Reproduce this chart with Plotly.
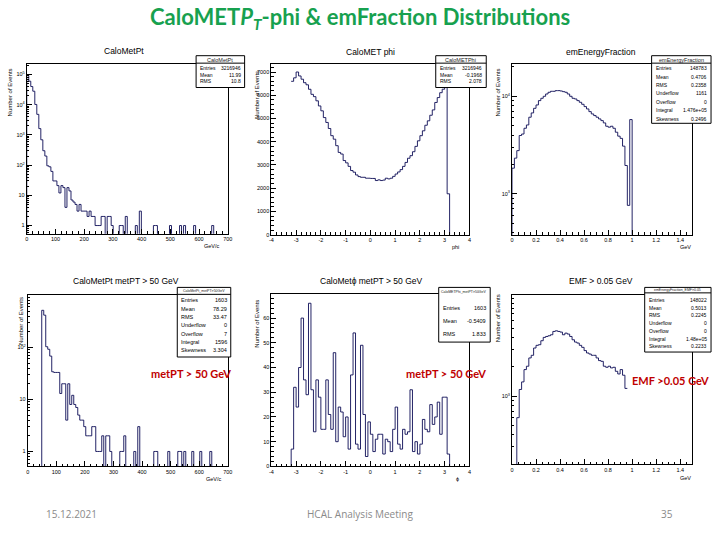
import numpy as np
import plotly.graph_objects as go

W, H = 720, 540

# ---------------- data ----------------
pt_bin_width = 7.0          # GeV, 100 bins 0..700
calomet_pt_counts = [93000, 60000, 40000, 28000, 10200, 4800, 1620, 690, 300, 200,
                     95, 88, 62, 30, 30, 21, 12, 21, 18, 4,
                     18, 14, 7, 6, 5, 3, 5, 3, 3, 3,
                     2, 3, 2, 2, 1, 1, 1, 2, 2, 0,
                     2, 2, 1, 0, 0, 0, 1, 1, 0, 2,
                     0, 0, 0, 0, 1, 0, 3, 0, 0, 0,
                     0, 0, 0, 1, 1, 0, 0, 0, 0, 0,
                     0, 1, 0, 0, 0, 0, 1, 0, 1, 0,
                     0, 0, 0, 1, 0, 0, 0, 0, 0, 0,
                     0, 0, 1, 0, 0, 0, 0, 0, 0, 0]
calomet_pt_cut_counts = [0, 0, 0, 0, 0, 0, 0, 516, 416, 103,
                         92, 68, 34, 33, 33, 33, 13, 20, 20, 4,
                         20, 8, 12, 8, 7, 5, 4, 4, 3, 2,
                         2, 2, 3, 3, 1, 1, 1, 2, 0, 2,
                         2, 1, 0, 0, 0, 0, 1, 1, 2, 0,
                         0, 0, 0, 1, 0, 3, 0, 0, 0, 0,
                         0, 0, 0, 1, 1, 0, 0, 0, 0, 0,
                         1, 0, 0, 0, 0, 1, 1, 0, 1, 0,
                         0, 0, 1, 0, 0, 0, 1, 0, 0, 0,
                         0, 1, 0, 0, 0, 0, 0, 0, 0, 0]

phi_first_edge = -3.2
phi_bin_width = 0.1
calomet_phi_counts = [6600, 6750, 7000, 6830, 6690, 6540, 6450, 6257, 6040, 5940,
                      5760, 5540, 5330, 5040, 4830, 4570, 4260, 4110, 3830, 3540,
                      3470, 3190, 3090, 2940, 2760, 2690, 2570, 2500, 2470, 2470,
                      2430, 2430, 2420, 2420, 2330, 2360, 2330, 2350, 2430, 2400,
                      2430, 2510, 2610, 2700, 2800, 2940, 3110, 3290, 3400, 3570,
                      3800, 4040, 4260, 4470, 4710, 4900, 5140, 5370, 5690, 5900,
                      6110, 6260, 6400, 1760]
calomet_phi_cut_counts = [7, 32, 24, 40, 60, 35, 29, 66, 31, 14,
                          35, 28, 15, 15, 35, 21, 15, 46, 10, 24,
                          22, 12, 20, 7, 37, 54, 9, 7, 49, 21,
                          4, 18, 13, 6, 11, 13, 13, 5, 11, 10,
                          6, 15, 24, 9, 7, 15, 13, 14, 31, 6,
                          10, 5, 9, 19, 15, 14, 25, 17, 20, 26,
                          13, 28, 28, 5]

emf_bin_width = 0.02
emf_counts = [1830, 2320, 2770, 3960, 4100, 4700, 5080, 6100, 6750, 7530,
              8150, 9030, 9540, 10000, 10560, 10990, 11250, 11250, 11430, 11430,
              11340, 11160, 10990, 10560, 10000, 9540, 9390, 9030, 8680, 8280,
              7840, 7420, 6960, 6590, 6340, 6100, 5860, 5630, 5330, 4930,
              4820, 4930, 4700, 4280, 3900, 3700, 3080, 1950, 760, 5770]
emf_cut_first_edge = 0.04
emf_cut_counts = [600, 1170, 1400, 1875, 2030, 2470, 2630, 3125, 3330, 3380,
                  3715, 4020, 4110, 4180, 4280, 4630, 4700, 4630, 4560, 4280,
                  4450, 4350, 4110, 3800, 3600, 3515, 3330, 3175, 2940, 2780,
                  2710, 2630, 2630, 2470, 2320, 2280, 2030, 1980, 2030, 1950,
                  1980, 1800, 1690, 1875, 1640, 1200]

pt_ticks = [0, 100, 200, 300, 400, 500, 600, 700]
phi_ticks = [-4, -3, -2, -1, 0, 1, 2, 3, 4]
emf_ticks = [0, 0.2, 0.4, 0.6, 0.8, 1, 1.2, 1.4]
phi_y_ticks = [0, 1000, 2000, 3000, 4000, 5000, 6000, 7000]
phi_cut_y_ticks = [0, 10, 20, 30, 40, 50, 60]

stats_pt = [("Entries", "3216946"), ("Mean", "11.99"), ("RMS", "10.8")]
stats_phi = [("Entries", "3216946"), ("Mean", "-0.1968"), ("RMS", "2.078")]
stats_emf = [("Entries", "148783"), ("Mean", "0.4706"), ("RMS", "0.2358"),
             ("Underflow", "1161"), ("Overflow", "0"), ("Integral", "1.476e+05"),
             ("Skewness", "0.2496")]
stats_pt_cut = [("Entries", "1603"), ("Mean", "78.29"), ("RMS", "33.47"),
                ("Underflow", "0"), ("Overflow", "7"), ("Integral", "1596"),
                ("Skewness", "3.304")]
stats_phi_cut = [("Entries", "1603"), ("Mean", "-0.5409"), ("RMS", "1.833")]
stats_emf_cut = [("Entries", "148022"), ("Mean", "0.5013"), ("RMS", "0.2245"),
                 ("Underflow", "0"), ("Overflow", "0"), ("Integral", "1.48e+05"),
                 ("Skewness", "0.2233")]

# ---------------- helpers ----------------
def px(x):
    return x / W

def py(y):
    return 1 - y / H

LINE = "#0b0b55"
FONT = "Liberation Sans"

def step_xy(edge0, width, counts, floor, close_left=True, close_right=True):
    n = len(counts)
    edges = edge0 + width * np.arange(n + 1)
    ys = [c if c > 0 else floor for c in counts]
    x = ([edges[0]] if close_left else []) + list(edges[:n]) + [edges[n]]
    y = ([floor] if close_left else []) + ys + ([floor] if close_right else [ys[-1]])
    return x, y

fig = go.Figure()

panels = [
    ("1", (25, 228, 64, 235)),
    ("2", (272, 472, 64, 236)),
    ("3", (515, 697, 64, 236)),
    ("4", (26, 228, 297, 469)),
    ("5", (272, 472, 296, 469)),
    ("6", (515, 697, 297, 467)),
]

LOGFLOOR = 1e-3
traces = [
    step_xy(0.0, pt_bin_width, calomet_pt_counts, LOGFLOOR),
    step_xy(phi_first_edge, phi_bin_width, calomet_phi_counts, 0, close_left=False),
    step_xy(0.0, emf_bin_width, emf_counts, LOGFLOOR),
    step_xy(0.0, pt_bin_width, calomet_pt_cut_counts, LOGFLOOR),
    step_xy(phi_first_edge, phi_bin_width, calomet_phi_cut_counts, 0),
    step_xy(emf_cut_first_edge, emf_bin_width, emf_cut_counts, LOGFLOOR, close_right=False),
]

for i, (xx, yy) in enumerate(traces):
    k = "" if i == 0 else str(i + 1)
    fig.add_trace(go.Scatter(x=xx, y=yy, mode="lines", line=dict(color=LINE, width=0.9, shape="hv"),
                             xaxis="x" + k, yaxis="y" + k, hoverinfo="skip", showlegend=False))

tickfont = dict(size=5.5, family=FONT, color="black")

def base_axis(dom, anchor):
    return dict(domain=dom, anchor=anchor, showline=True, mirror=True, linecolor="black",
                linewidth=1, ticks="inside", ticklen=5, tickcolor="black", tickwidth=1,
                tickfont=tickfont, showgrid=False, zeroline=False, fixedrange=True)

def lin_axis(dom, anchor, rng, vals, minor):
    d = base_axis(dom, anchor)
    d.update(range=rng, tickmode="array", tickvals=vals, ticktext=[f"{v:g}" for v in vals],
             minor=dict(ticks="inside", ticklen=2.5, tickcolor="black", dtick=minor, showgrid=False))
    return d

def sup(e):
    if e == 0:
        return "1"
    if e == 1:
        return "10"
    return f"10<sup>{e}</sup>"

def log_y(dom, anchor, rng, exps):
    d = base_axis(dom, anchor)
    d.update(type="log", range=rng, tickmode="array", tickvals=[10 ** e for e in exps],
             ticktext=[sup(e) for e in exps],
             minor=dict(ticks="inside", ticklen=2.5, tickcolor="black", dtick="D1", showgrid=False))
    return d

layout_axes = {}
for i, (name, (x0, x1, y0, y1)) in enumerate(panels):
    k = "" if i == 0 else str(i + 1)
    xd = [px(x0), px(x1)]
    yd = [py(y1), py(y0)]
    xa = "xaxis" + k
    ya = "yaxis" + k
    xanchor = "y" + k
    yanchor = "x" + k
    if name in ("1", "4"):
        layout_axes[xa] = lin_axis(xd, xanchor, [0, 700], pt_ticks, 20)
    elif name in ("2", "5"):
        layout_axes[xa] = lin_axis(xd, xanchor, [-4, 4], phi_ticks, 0.2)
    else:
        layout_axes[xa] = lin_axis(xd, xanchor, [0, 1.5], emf_ticks, 0.05)
    if name == "1":
        layout_axes[ya] = log_y(yd, yanchor, [-0.27, 5.36], [0, 1, 2, 3, 4, 5])
    elif name == "4":
        layout_axes[ya] = log_y(yd, yanchor, [-0.287, 3.0], [0, 1, 2])
    elif name == "2":
        layout_axes[ya] = lin_axis(yd, yanchor, [0, 7360], phi_y_ticks, 200)
    elif name == "5":
        layout_axes[ya] = lin_axis(yd, yanchor, [0, 69.6], phi_cut_y_ticks, 2)
    elif name == "3":
        layout_axes[ya] = log_y(yd, yanchor, [2.58, 4.335], [3, 4])
    else:
        layout_axes[ya] = log_y(yd, yanchor, [2.297, 4.037], [3])

shapes = []
annotations = []

def text(x, y, s, size, color="black", family=FONT, xanchor="center", angle=0, bold=False):
    annotations.append(dict(x=px(x), y=py(y), xref="paper", yref="paper", text=(f"<b>{s}</b>" if bold else s),
                            showarrow=False, xanchor=xanchor, yanchor="middle", textangle=angle,
                            font=dict(size=size, color=color, family=family)))

def stats_box(x0, x1, y0, y1, header, header_size, header_y, line_y, rows, row_y0, row_dy, fs=5):
    shapes.append(dict(type="rect", xref="paper", yref="paper", x0=px(x0), x1=px(x1), y0=py(y1), y1=py(y0),
                       line=dict(color="black", width=1), fillcolor="white", layer="above"))
    if line_y is not None:
        shapes.append(dict(type="line", xref="paper", yref="paper", x0=px(x0), x1=px(x1), y0=py(line_y), y1=py(line_y),
                           line=dict(color="black", width=1), layer="above"))
    text((x0 + x1) / 2, header_y, header, header_size, color="#222")
    for j, (kk, vv) in enumerate(rows):
        yy = row_y0 + j * row_dy
        text(x0 + 2, yy, kk, fs, xanchor="left")
        text(x1 - 2, yy, vv, fs, xanchor="right")

stats_box(196, 245, 56, 88, "CaloMetPt", 5.5, 60, 63.5, stats_pt, 68.5, 6.5)
stats_box(438, 489, 56, 88, "CaloMETPhi", 5.5, 60, 63.5, stats_phi, 68.5, 6.5)
stats_box(656, 716, 56, 124, "emEnergyFraction", 5.5, 60, 63.5, stats_emf, 68.5, 8.5)
stats_box(177, 231, 289, 359, "CaloMetPt_metPT&gt;50GeV", 3.5, 292.5, 296, stats_pt_cut, 302, 8.4, fs=5.5)
stats_box(441, 493, 289, 344, "CaloMETPhi_metPT&gt;50GeV", 3.5, 293.5, None, stats_phi_cut, 310, 13, fs=5.5)
stats_box(649, 716, 289, 354, "emEnergyFraction_EMF&gt;0.05", 3.5, 291.8, 294.5, stats_emf_cut, 301.5, 7.8)

# panel titles
text(123, 51, "CaloMetPt", 8.5)
text(372, 52, "CaloMET phi", 8.5)
text(605, 52, "emEnergyFraction", 8.5)
text(125, 283, "CaloMetPt metPT &gt; 50 GeV", 8.5)
text(373, 283, "CaloMet\u03d5 metPT &gt; 50 GeV", 8.5)
text(605, 283, "EMF &gt; 0.05 GeV", 8.5)

# axis titles
for (x, y) in [(9, 93), (258, 95), (501, 93), (19, 323), (258, 325), (501, 320)]:
    text(x, y, "Number of Events", 6, angle=-90)
text(212, 247, "GeV/c", 5.5)
text(458, 248, "phi", 5.5)
text(690, 248, "GeV", 5.5)
text(214, 482, "GeV/c", 5.5)
text(460, 482, "\u03d5", 5.5)
text(690, 481, "GeV", 5.5)

# red slide labels
RED = "#c00000"
text(191, 376, "metPT &gt; 50 GeV", 11, color=RED, family="Lato", bold=True)
text(448, 376, "metPT &gt; 50 GeV", 11, color=RED, family="Lato", bold=True)
text(675, 383, "EMF &gt;0.05 GeV", 11, color=RED, family="Lato", bold=True)

# slide title and footer
GREEN = "#17a14f"
text(362, 18, "CaloMET<i>P<sub>T</sub></i>-phi &amp; emFraction Distributions", 22, color=GREEN,
     family="Lato", bold=True)
text(70, 517, "15.12.2021", 10, color="#8a8a8a", family="Open Sans")
text(362, 517, "HCAL Analysis Meeting", 10, color="#8a8a8a", family="Open Sans")
text(672, 517, "35", 10, color="#8a8a8a", family="Open Sans")

fig.update_layout(width=W, height=H, autosize=False, margin=dict(l=0, r=0, t=0, b=0),
                  paper_bgcolor="white", plot_bgcolor="white", showlegend=False,
                  shapes=shapes, annotations=annotations, **layout_axes)

fig.write_html("out.html", config={"displayModeBar": False, "staticPlot": True},
               post_script="document.body.style.margin='0px';")
